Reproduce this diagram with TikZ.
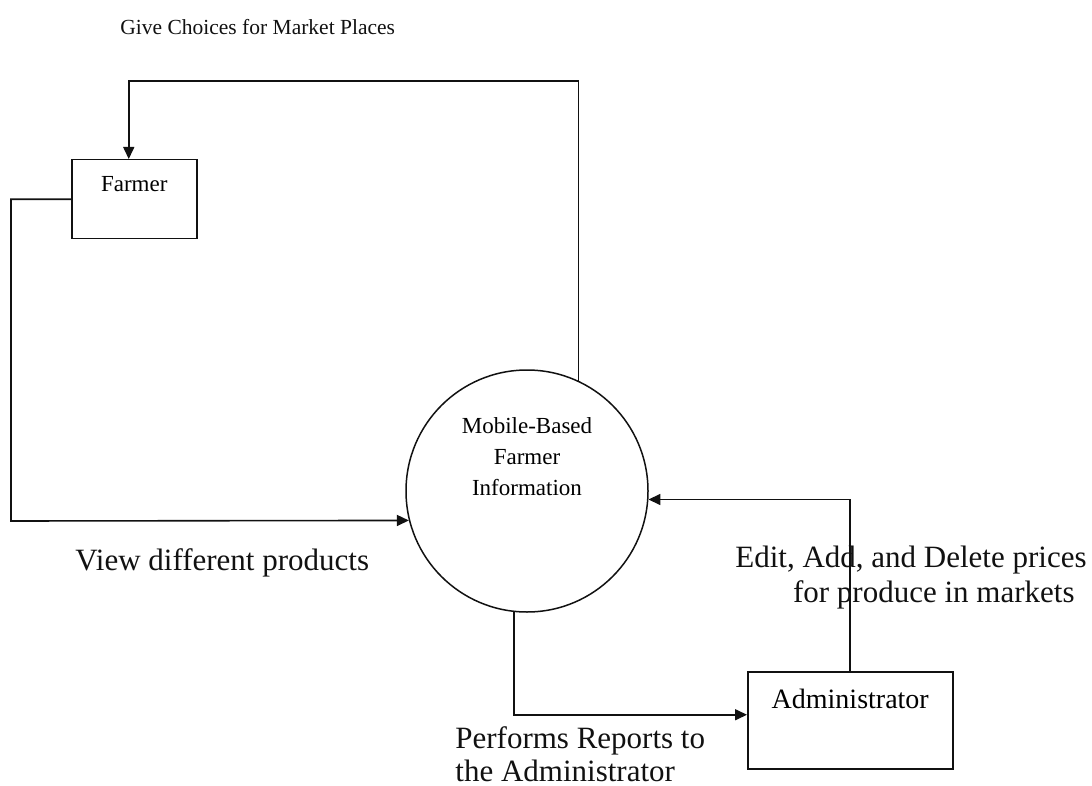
\documentclass[tikz,border=0pt]{standalone}
\usepackage{fontspec}
\setmainfont{Liberation Serif}
\usepackage{tikz}
\usetikzlibrary{arrows.meta,calc,positioning}
\definecolor{Ink}{HTML}{111111}

\begin{document}
\begin{tikzpicture}[x=0.5pt,y=-0.5pt,>={Triangle[length=6pt,width=5.5pt]},
  entity/.style={draw=Ink,line width=0.75pt,inner sep=0pt,anchor=north west},
  flow/.style={draw=Ink,line width=0.8pt,->},
  flowtext/.style={Ink,inner sep=0pt,font=\fontsize{15.5}{16.5}\selectfont}]
  \useasboundingbox (0,0) rectangle (1092,786);
  % external entities and the process bubble
  \node[entity,minimum width=62.5pt,text height=16pt,text depth=23.5pt,
        font=\fontsize{11.5}{13}\selectfont] (farmer) at (71,159) {Farmer};
  \node[entity,minimum width=102.5pt,text height=18.5pt,text depth=30pt,
        font=\fontsize{14}{16}\selectfont] (admin) at (747,671) {Administrator};
  \node[draw=Ink,line width=0.75pt,circle,minimum size=121pt,inner sep=0pt,
        label={[yshift=17pt,align=center,font=\fontsize{11.5}{15.5}\selectfont]center:Mobile-Based\\Farmer\\Information}]
        (proc) at (527,491) {};
  % bends of the long flows
  \coordinate (topturn) at (578,81);
  \coordinate (viewturn) at (11,521);
  \draw[flow] (proc.65) -- (proc.65 |- topturn) -| ([xshift=-2.75pt]farmer.north);
  \draw[flow] (farmer.west) -| (viewturn) -- (proc.194);
  \draw[flow] (proc.264) |- ([yshift=2.75pt]admin.west);
  \draw[flow] (admin.north) |- (proc.356);
  % flow labels
  \node[flowtext,font=\fontsize{10.75}{12}\selectfont,anchor=west] (choices) at (120,27) {Give Choices for Market Places};
  \node[flowtext,anchor=west] (view) at (75,563) {View different products};
  \node[flowtext,anchor=north east,align=right,font=\fontsize{15.5}{17.5}\selectfont] (edit) at (1087,546)
    {Edit, Add, and Delete prices\\for produce in markets\hspace*{6pt}};
  \node[flowtext,anchor=north west,align=left] (reports) at (455,726)
    {Performs Reports to\\the Administrator};
\end{tikzpicture}
\end{document}
